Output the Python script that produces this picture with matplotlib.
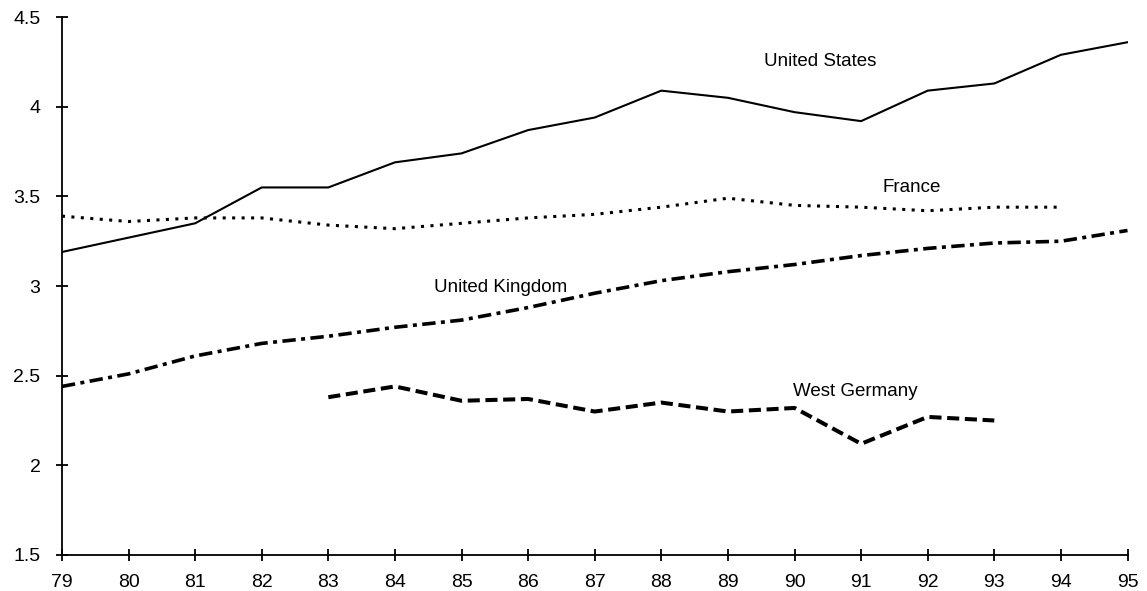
import matplotlib
matplotlib.use("Agg")
import matplotlib.pyplot as plt

plt.rcParams['font.family'] = ['Liberation Sans', 'DejaVu Sans']

years = list(range(79, 96))
us = [3.19, 3.27, 3.35, 3.55, 3.55, 3.69, 3.74, 3.87, 3.94, 4.09, 4.05, 3.97, 3.92, 4.09, 4.13, 4.29, 4.36]
france_years = list(range(79, 95))
france = [3.39, 3.36, 3.38, 3.38, 3.34, 3.32, 3.35, 3.38, 3.40, 3.44, 3.49, 3.45, 3.44, 3.42, 3.44, 3.44]
uk = [2.44, 2.51, 2.61, 2.68, 2.72, 2.77, 2.81, 2.88, 2.96, 3.03, 3.08, 3.12, 3.17, 3.21, 3.24, 3.25, 3.31]
wg_years = list(range(83, 94))
wg = [2.38, 2.44, 2.36, 2.37, 2.30, 2.35, 2.30, 2.32, 2.12, 2.27, 2.25]

fig = plt.figure(figsize=(11.47, 5.91), dpi=100)
ax = fig.add_axes([0.054, 0.061, 0.929, 0.910])

ax.plot(years, us, color='black', lw=1.5, linestyle='-')
ax.plot(france_years, france, color='black', lw=2.2, linestyle=(0, (1, 2.1)))
ax.plot(years, uk, color='black', lw=2.6, linestyle=(0, (3.7, 1.5, 1.1, 1.5)))
ax.plot(wg_years, wg, color='black', lw=2.9, linestyle=(0, (3, 1.4)))

# series labels
ax.text(90.38, 4.25, 'United States', ha='center', va='center', fontsize=13.5)
ax.text(91.76, 3.55, 'France', ha='center', va='center', fontsize=13.5)
ax.text(85.58, 2.99, 'United Kingdom', ha='center', va='center', fontsize=13.5)
ax.text(90.92, 2.41, 'West Germany', ha='center', va='center', fontsize=13.5)

ax.set_xlim(79, 95)
ax.set_ylim(1.5, 4.5)
ax.set_xticks(years)
ax.set_xticklabels([str(y) for y in years])
ax.set_yticks([1.5, 2, 2.5, 3, 3.5, 4, 4.5])
ax.set_yticklabels(['1.5', '2', '2.5', '3', '3.5', '4', '4.5'])

for s in ['top', 'right']:
    ax.spines[s].set_visible(False)
for s in ['left', 'bottom']:
    ax.spines[s].set_linewidth(1.3)
ax.tick_params(direction='inout', length=9, width=1.3, labelsize=14)
ax.tick_params(axis='x', pad=9)
ax.tick_params(axis='y', pad=11)

fig.savefig('out.png', dpi=100)
